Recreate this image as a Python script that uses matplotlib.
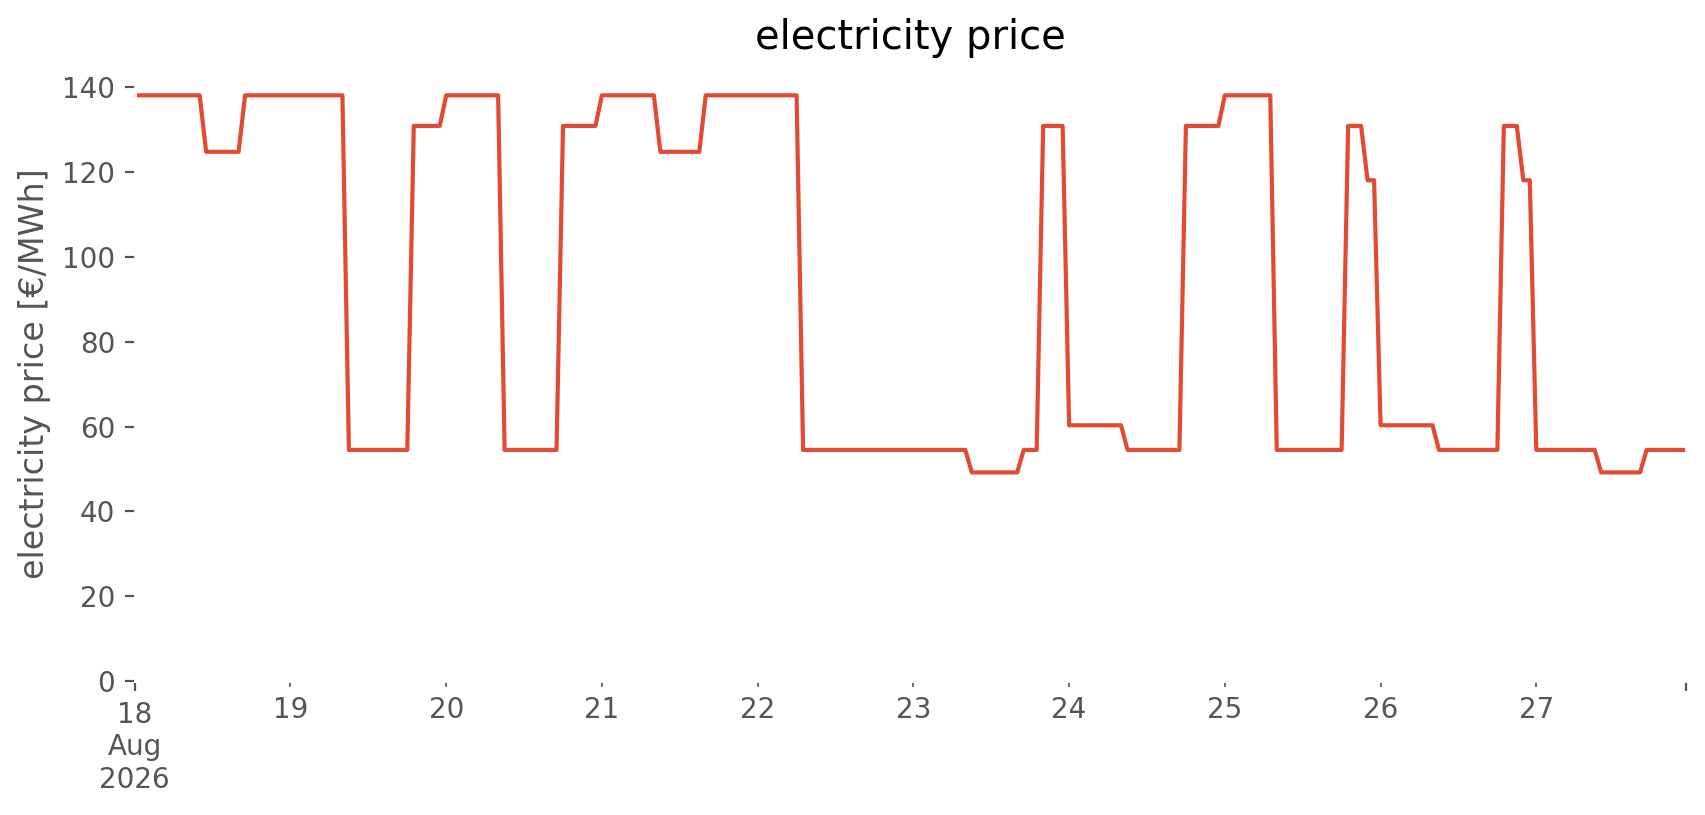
import matplotlib
matplotlib.use("Agg")
import matplotlib.pyplot as plt
import pandas as pd

# hourly prices in EUR/MWh, one list per day (00:00 .. 23:00)
aug18 = [138.0] * 11 + [124.7] * 6 + [138.0] * 7
aug19 = [138.0] * 9 + [54.5] * 10 + [130.8] * 5
aug20 = [138.0] * 9 + [54.5] * 9 + [130.8] * 6
aug21 = [138.0] * 9 + [124.7] * 7 + [138.0] * 8
aug22 = [138.0] * 7 + [54.5] * 17
aug23 = [54.5] * 9 + [49.2] * 8 + [54.5] * 3 + [130.8] * 4
aug24 = [60.3] * 9 + [54.5] * 9 + [130.8] * 6
aug25 = [138.0] * 8 + [54.5] * 11 + [130.8] * 3 + [118.0] * 2
aug26 = [60.3] * 9 + [54.5] * 10 + [130.8] * 3 + [118.0] * 2
aug27 = [54.5] * 10 + [49.2] * 7 + [54.5] * 7

days = [aug18, aug19, aug20, aug21, aug22, aug23, aug24, aug25, aug26, aug27]
start = "2026-08-18 00:00"
title = "electricity price"
ylabel = "electricity price [€/MWh]"


def main():
    prices = [p for day in days for p in day]
    index = pd.date_range(start, periods=len(prices), freq="h")
    price = pd.Series(prices, index=index, name=title)

    plt.style.use("ggplot")
    fig, ax = plt.subplots(figsize=(8.53, 4.075), dpi=200)
    ax.set_facecolor("white")
    fig.patch.set_facecolor("white")

    price.plot(ax=ax, lw=1.5)
    ax.set_title(title)
    ax.set_ylabel(ylabel)
    ax.set_xlabel("")
    # zero-based y axis, 5% headroom above the max
    ax.set_ylim(0, max(prices) * 1.05)

    fig.subplots_adjust(left=0.079, right=0.988, top=0.919, bottom=0.164)
    fig.savefig("out.png", dpi=200)


if __name__ == "__main__":
    main()
